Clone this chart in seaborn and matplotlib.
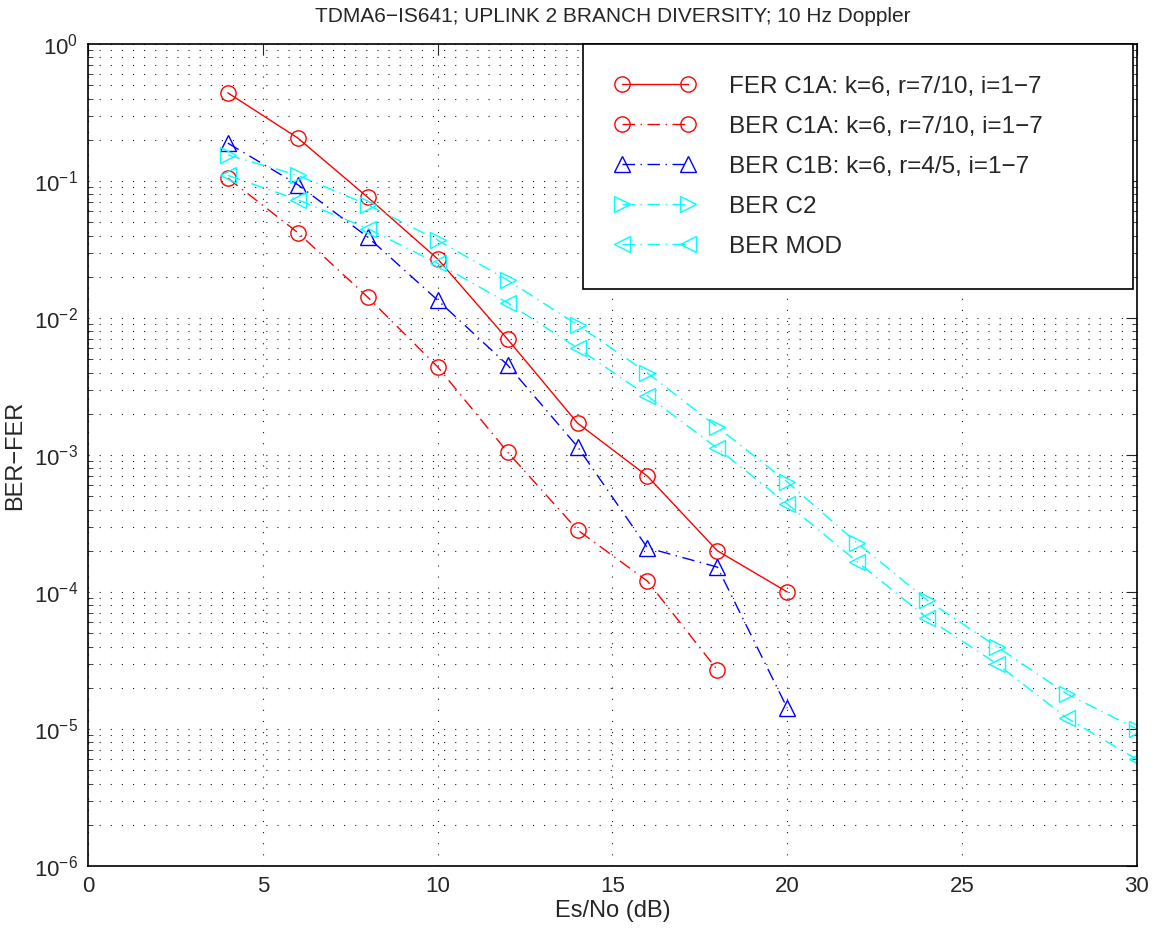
import numpy as np
import pandas as pd
import matplotlib
matplotlib.use("Agg")
import matplotlib.pyplot as plt
from matplotlib.ticker import LogLocator, FixedLocator, NullFormatter
import seaborn as sns

# Es/No points (dB)
snr_fer_c1a = [4, 6, 8, 10, 12, 14, 16, 18, 20]
fer_c1a = [0.44, 0.206, 0.076, 0.027, 0.0070, 0.00171, 7.0e-4, 2.0e-4, 1.0e-4]

snr_ber_c1a = [4, 6, 8, 10, 12, 14, 16, 18]
ber_c1a = [0.105, 0.042, 0.0142, 0.0044, 0.00105, 2.84e-4, 1.2e-4, 2.7e-5]

snr_ber_c1b = [4, 6, 8, 10, 12, 14, 16, 18, 20]
ber_c1b = [0.189, 0.094, 0.039, 0.0135, 0.00454, 0.00115, 2.1e-4, 1.52e-4, 1.42e-5]

snr_ber_c2 = [4, 6, 8, 10, 12, 14, 16, 18, 20, 22, 24, 26, 28, 30]
ber_c2 = [0.155, 0.11, 0.067, 0.037, 0.0189, 0.0089, 0.00397, 0.0016, 6.35e-4,
          2.28e-4, 8.7e-5, 3.98e-5, 1.8e-5, 1.0e-5]

snr_ber_mod = [4, 6, 8, 10, 12, 14, 16, 18, 20, 22, 24, 26, 28, 30]
ber_mod = [0.11, 0.073, 0.045, 0.025, 0.0129, 0.00604, 0.0027, 0.00112, 4.39e-4,
           1.66e-4, 6.46e-5, 2.98e-5, 1.2e-5, 6.0e-6]

labels = [
    "FER C1A: k=6, r=7/10, i=1\u22127",
    "BER C1A: k=6, r=7/10, i=1\u22127",
    "BER C1B: k=6, r=4/5, i=1\u22127",
    "BER C2",
    "BER MOD",
]

title = "TDMA6\u2212IS641; UPLINK 2 BRANCH DIVERSITY; 10 Hz Doppler"
xlabel = "Es/No (dB)"
ylabel = "BER\u2212FER"

sns.set_style("white")
plt.rcParams["font.family"] = ["Liberation Sans", "DejaVu Sans"]
plt.rcParams["mathtext.fontset"] = "custom"
plt.rcParams["mathtext.rm"] = "Liberation Sans"
plt.rcParams["mathtext.it"] = "Liberation Sans"

frames = []
for lab, xs, ys in zip(labels,
                       [snr_fer_c1a, snr_ber_c1a, snr_ber_c1b, snr_ber_c2, snr_ber_mod],
                       [fer_c1a, ber_c1a, ber_c1b, ber_c2, ber_mod]):
    frames.append(pd.DataFrame({"snr": xs, "rate": ys, "curve": lab}))
df = pd.concat(frames, ignore_index=True)

dashdot = (0, (9, 4, 1, 4))
styles = {
    labels[0]: dict(color="#ff0000", ls="-", marker="o"),
    labels[1]: dict(color="#ff0000", ls=dashdot, marker="o"),
    labels[2]: dict(color="#0000ff", ls=dashdot, marker="^"),
    labels[3]: dict(color="#00ffff", ls=dashdot, marker=">"),
    labels[4]: dict(color="#00ffff", ls=dashdot, marker="<"),
}

fig = plt.figure(figsize=(11.53, 9.34), dpi=100)
ax = fig.add_axes([0.0763, 0.0728, 0.9098, 0.8801])

for lab in labels:
    st = styles[lab]
    sub = df[df["curve"] == lab]
    sns.lineplot(data=sub, x="snr", y="rate", ax=ax, color=st["color"],
                 linestyle=st["ls"], marker=st["marker"], markersize=11,
                 markerfacecolor="none", markeredgecolor=st["color"],
                 markeredgewidth=1.0, linewidth=1.0, label=lab,
                 estimator=None, sort=False)

ax.set_yscale("log")
ax.set_xlim(0, 30)
ax.set_ylim(1e-6, 1)
ax.xaxis.set_major_locator(FixedLocator([0, 5, 10, 15, 20, 25, 30]))
ax.yaxis.set_major_locator(LogLocator(base=10, numticks=10))
ax.yaxis.set_minor_locator(LogLocator(base=10, subs=np.arange(2, 10), numticks=20))
ax.yaxis.set_minor_formatter(NullFormatter())

dots = (0, (1, 9))
ax.grid(True, which="major", axis="both", color="0.1", linewidth=0.8, linestyle=dots)
ax.grid(True, which="minor", axis="y", color="0.1", linewidth=0.8, linestyle=dots)
ax.set_axisbelow(True)

ax.tick_params(which="major", direction="in", length=8, width=0.8,
               top=True, right=True, labelsize=16, pad=7)
ax.tick_params(which="minor", direction="in", length=3.6, width=0.6,
               left=True, right=True)
for sp in ax.spines.values():
    sp.set_color("black")
    sp.set_linewidth(1.2)
    sp.set_visible(True)

ax.set_title(title, fontsize=15, pad=16)
ax.set_xlabel(xlabel, fontsize=17, labelpad=2)
ax.set_ylabel(ylabel, fontsize=17, labelpad=6)

leg = ax.legend(loc="upper right", bbox_to_anchor=(0.4719, 0.7068, 0.5243, 0.2932),
                mode="expand", fontsize=17.5,
                numpoints=2, handlelength=3.3, handletextpad=1.4,
                labelspacing=0.74, borderpad=1.3, borderaxespad=0.0,
                fancybox=False, framealpha=1.0, edgecolor="black")
leg.get_frame().set_linewidth(1.2)

fig.savefig("out.png", dpi=100, facecolor="white")
